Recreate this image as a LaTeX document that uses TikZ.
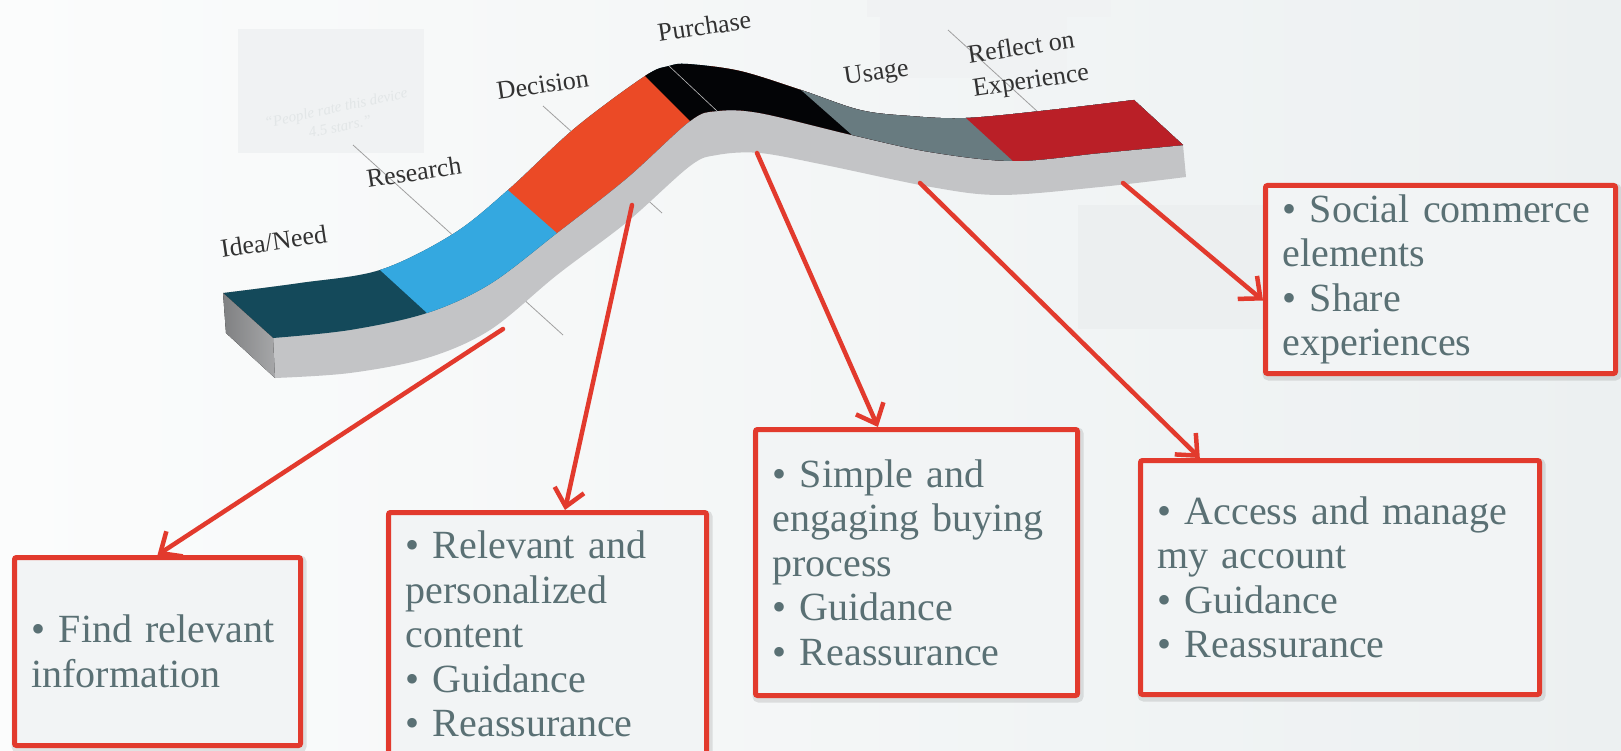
\documentclass[tikz,border=0pt]{standalone}
\usepackage{fontspec}
\setmainfont{Liberation Serif}
\usetikzlibrary{calc,arrows.meta}

\definecolor{bgleft}{RGB}{251,252,252}
\definecolor{bgright}{RGB}{236,240,241}
\definecolor{panel}{RGB}{240,242,243}
\definecolor{panelB}{RGB}{236,239,240}
\definecolor{quoteink}{RGB}{226,230,231}
\definecolor{leadgrey}{RGB}{160,160,160}
\definecolor{labelink}{RGB}{50,50,50}
\definecolor{stageA}{RGB}{20,73,90}
\definecolor{stageB}{RGB}{52,168,224}
\definecolor{stageC}{RGB}{235,74,38}
\definecolor{stageD}{RGB}{3,4,6}
\definecolor{stageE}{RGB}{104,123,128}
\definecolor{stageF}{RGB}{186,31,39}
\definecolor{sidegrey}{RGB}{195,196,198}
\definecolor{endgrey}{RGB}{150,151,153}
\definecolor{cardred}{RGB}{226,58,45}
\definecolor{cardfill}{RGB}{242,244,245}
\definecolor{cardink}{RGB}{90,112,116}

\begin{document}
\begin{tikzpicture}[x=1pt,y=-1pt,
  stagelabel/.style={text=labelink, font=\fontsize{26}{35}\selectfont, inner sep=0pt, rotate=8.5, anchor=base west},
  leader/.style={draw=leadgrey, line width=0.8pt},
  card/.style={draw=cardred, line width=5pt, fill=cardfill, rounded corners=2pt,
    text=cardink, font=\fontsize{40}{44.5}\selectfont, align=left,
    inner xsep=17pt, inner ysep=0pt,
    preaction={draw=black, draw opacity=0.10, fill opacity=0, line width=9pt,
      transform canvas={shift={(1.5pt,-2.5pt)}}}},
  link/.style={draw=cardred, line width=4.5pt, line cap=round,
    -{Straight Barb[length=17pt,width=30pt]}}
]
\useasboundingbox (0,0) rectangle (1621,751);

% background
\fill[left color=bgleft, right color=bgright] (0,0) rectangle (1621,751);

% pale panels behind the diagram
\fill[panel] (867,0) rectangle (1111,17);
\fill[panel] (880,17) rectangle (1067,78);
\fill[panelB] (1078,205) rectangle (1272,329);
\fill[panel] (238,29) rectangle (424,153);
\node[font=\itshape\fontsize{15}{19}\selectfont, text=quoteink, rotate=12, align=center]
  (quote) at (338,117) {“People rate this device\\4.5 stars.”};

% leader lines running behind the ribbon
\draw[leader] (353,145) -- (563,335);
\draw[leader] (543,106) -- (662,213);
\draw[leader] (948,30) -- (1038,112);

% stage boundaries on the ribbon (back edge / front edge)
\coordinate (b1) at (380,270); \coordinate (f1) at (427,313);
\coordinate (b2) at (508,190); \coordinate (f2) at (557,233);
\coordinate (b3) at (645,76);  \coordinate (f3) at (690,121);
\coordinate (b4) at (801,90);  \coordinate (f4) at (852,135);
\coordinate (b5) at (966,118); \coordinate (f5) at (1013,161);

% ribbon body (front face)
\fill[sidegrey]
  plot[smooth, tension=0.55] coordinates {(223,293) (300,283) (380,270) (453,234) (508,190) (575,128) (645,76) (669,66) (688,64) (740,71) (801,90) (860,110) (910,116) (966,118) (1050,110) (1134,100)}
  -- (1183,145) -- (1186,177)
  -- plot[smooth, tension=0.55] coordinates {(1186,177) (1100,187) (1001,195) (931,187) (825,165) (760,153) (717,155) (690,166) (627,222) (557,275) (490,330) (427,358) (350,373) (275,378)}
  -- (273,338) -- cycle;

% ribbon top surface, split into stages
\begin{scope}
  \clip
    plot[smooth, tension=0.55] coordinates {(223,293) (300,283) (380,270) (453,234) (508,190) (575,128) (645,76) (669,66) (688,64) (740,71) (801,90) (860,110) (910,116) (966,118) (1050,110) (1134,100)}
    -- plot[smooth, tension=0.55] coordinates {(1183,145) (1100,153) (1013,161) (930,152) (852,135) (760,113) (717,111) (690,121) (627,178) (557,233) (490,284) (427,313) (350,330) (273,338)}
    -- cycle;
  \fill[stageA] (0,0) rectangle (1621,751);
  \fill[stageB] ($(b1)!-2!(f1)$) -- ($(b1)!3!(f1)$) -- (1621,751) -- (1621,-50) -- cycle;
  \fill[stageC] ($(b2)!-2!(f2)$) -- ($(b2)!3!(f2)$) -- (1621,751) -- (1621,-50) -- cycle;
  \fill[stageD] ($(b3)!-2!(f3)$) -- ($(b3)!3!(f3)$) -- (1621,751) -- (1621,-50) -- cycle;
  \fill[stageE] ($(b4)!-2!(f4)$) -- ($(b4)!3!(f4)$) -- (1621,751) -- (1621,-50) -- cycle;
  \fill[stageF] ($(b5)!-2!(f5)$) -- ($(b5)!3!(f5)$) -- (1621,751) -- (1621,-50) -- cycle;
\end{scope}

% left end of the ribbon
\fill[left color=endgrey!85!black, right color=endgrey!85!white]
  (223,293) -- (273,338) -- (275,378) -- (226,333) -- cycle;

% leader crossing the purchase stage
\draw[leadgrey!70, line width=0.6pt] (669,66) -- (717,111);

% stage labels
\node[stagelabel] (lidea) at (222,258) {Idea/Need};
\node[stagelabel] (lresearch) at (368,188) {Research};
\node[stagelabel] (ldecision) at (498,100) {Decision};
\node[stagelabel] (lpurchase) at (659,42) {Purchase};
\node[stagelabel] (lusage) at (845,85) {Usage};
% two-line label: the anchor sits on the baseline of the lower line
\node[stagelabel, align=left] (lreflect) at (974,97) {Reflect on\\[-1pt]Experience};

% needs at each stage
\node[card, minimum width=286pt, minimum height=188pt, text width=252pt] (box1) at (157.5,651.5)
  {• Find relevant\\information};
\node[card, minimum width=318pt, minimum height=243pt, text width=284pt] (box2) at (547.5,634)
  {• Relevant and\\personalized\\content\\• Guidance\\• Reassurance};
\node[card, minimum width=322pt, minimum height=266pt, text width=288pt] (box3) at (916.5,562.5)
  {• Simple and\\engaging buying\\process\\• Guidance\\• Reassurance};
\node[card, minimum width=399pt, minimum height=234pt, text width=365pt] (box4) at (1340,577.5)
  {• Access and manage\\my account\\• Guidance\\• Reassurance};
\node[card, minimum width=350pt, minimum height=188pt, text width=316pt] (box5) at (1440.5,279.5)
  {• Social commerce\\elements\\• Share\\experiences};

% arrows from the ribbon to the boxes
\coordinate (s1) at (503,329);
\coordinate (s2) at (632,205);
\coordinate (s3) at (757,153);
\coordinate (s4) at (920,183);
\coordinate (s5) at (1123,183);
\draw[link] (s1) -- (box1.north);
\draw[link] (s2) -- ($(box2.north west)!0.554!(box2.north east)$);
\draw[link] (s3) -- ($(box3.north west)!0.382!(box3.north east)$);
\draw[link] (s4) -- ($(box4.north west)!0.153!(box4.north east)$);
\draw[link] (s5) -- ($(box5.north west)!0.609!(box5.south west)$);
\end{tikzpicture}
\end{document}
